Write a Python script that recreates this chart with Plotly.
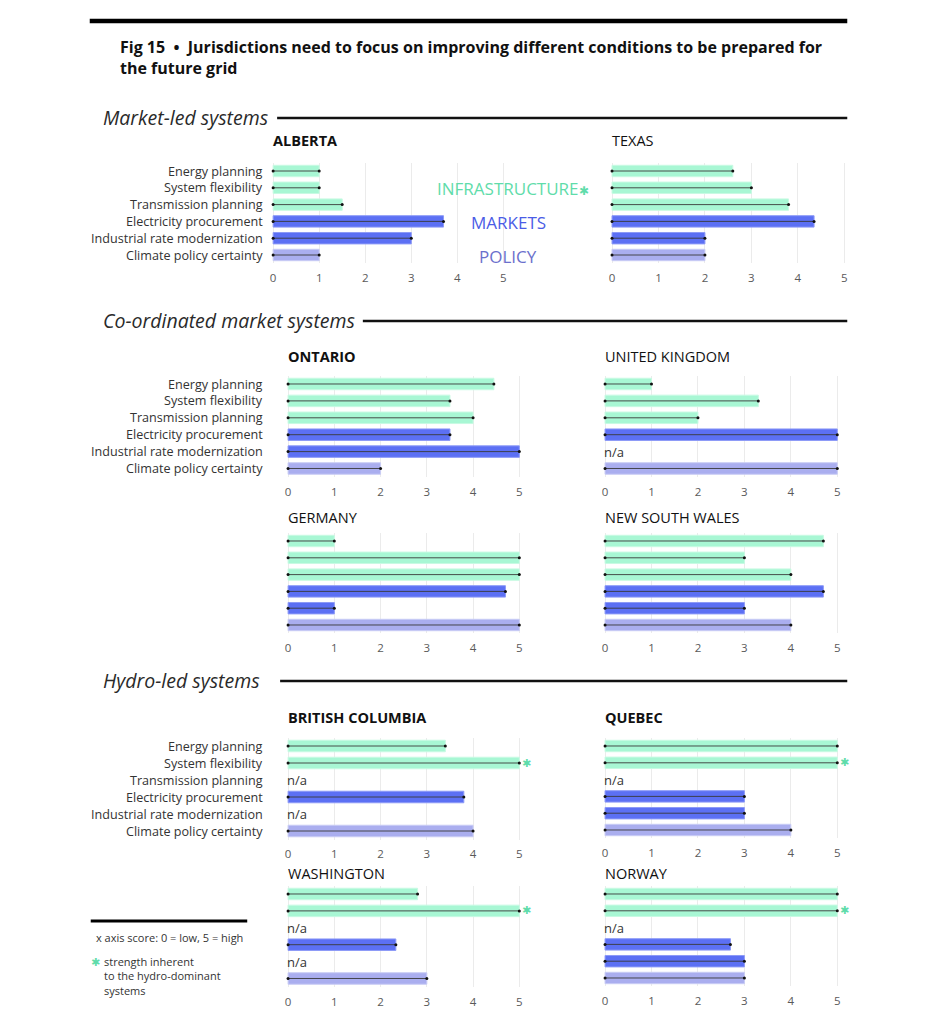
import plotly.graph_objects as go

# page body has an 8px margin; figure fills the rest of the 936x1024 window
OFF = 8
W, H = 936 - 2 * OFF, 1024 - 2 * OFF
FONT = "Open Sans"

# ---------------- data ----------------
categories = ["Energy planning", "System flexibility", "Transmission planning",
              "Electricity procurement", "Industrial rate modernization", "Climate policy certainty"]
groups = ["INFRASTRUCTURE", "INFRASTRUCTURE", "INFRASTRUCTURE", "MARKETS", "MARKETS", "POLICY"]
x_ticks = [0, 1, 2, 3, 4, 5]

alberta = [1.0, 1.0, 1.5, 3.7, 3.0, 1.0]
texas = [2.6, 3.0, 3.8, 4.35, 2.0, 2.0]
ontario = [4.45, 3.5, 4.0, 3.5, 5.0, 2.0]
united_kingdom = [1.0, 3.3, 2.0, 5.0, None, 5.0]
germany = [1.0, 5.0, 5.0, 4.7, 1.0, 5.0]
new_south_wales = [4.7, 3.0, 4.0, 4.7, 3.0, 4.0]
british_columbia = [3.4, 5.0, None, 3.8, None, 4.0]
quebec = [5.0, 5.0, None, 3.0, 3.0, 4.0]
washington = [2.8, 5.0, None, 2.33, None, 3.0]
norway = [5.0, 5.0, None, 2.7, 3.0, 3.0]

# strength inherent to hydro-dominant systems (category marked with asterisk)
hydro_strength = {"BRITISH COLUMBIA": ["System flexibility"], "QUEBEC": ["System flexibility"],
                  "WASHINGTON": ["System flexibility"], "NORWAY": ["System flexibility"]}

# ---------------- styles ----------------
fill = {"INFRASTRUCTURE": "#a8f7d4", "MARKETS": "#5c70f4", "POLICY": "#aaaeef"}
edge = {"INFRASTRUCTURE": "#c8fae3", "MARKETS": "#8d9af7", "POLICY": "#c9ccf5"}
label_col = {"INFRASTRUCTURE": "#5fdcaa", "MARKETS": "#4b5ce6", "POLICY": "#6b70cc"}
STAR = "#5fdcaa"

# panel layout in pixels: name, values, bold title, x of 0, x of 5, first row y, last row y, title y, show labels
panels = [
    ("ALBERTA", alberta, True, 272, 503, 171, 255, 141, True),
    ("TEXAS", texas, False, 612, 845, 171, 255, 141, False),
    ("ONTARIO", ontario, True, 287, 519, 384, 468.5, 356, True),
    ("UNITED KINGDOM", united_kingdom, False, 605, 838, 384, 468.5, 356, False),
    ("GERMANY", germany, False, 287, 519, 541, 625, 517, False),
    ("NEW SOUTH WALES", new_south_wales, False, 605, 838, 541, 625, 517, False),
    ("BRITISH COLUMBIA", british_columbia, True, 287, 519, 746, 831, 717, True),
    ("QUEBEC", quebec, True, 605, 838, 746, 830, 717, False),
    ("WASHINGTON", washington, False, 287, 519, 894, 978.5, 873, False),
    ("NORWAY", norway, False, 605, 838, 894, 978, 873, False),
]


def px(x):
    return (x - OFF) / W


def py(y):
    return 1 - (y - OFF) / H


fig = go.Figure()
annotations = []
shapes = []
RMIN, RMAX = -0.03, 5.06

for i, (name, vals, bold, x0, x5, r0, r1, ty, show_labels) in enumerate(panels, start=1):
    xa = "x" if i == 1 else f"x{i}"
    ya = "y" if i == 1 else f"y{i}"
    xkey = "xaxis" if i == 1 else f"xaxis{i}"
    ykey = "yaxis" if i == 1 else f"yaxis{i}"
    u = (x5 - x0) / 5.0
    step = (r1 - r0) / 5.0
    dom_x = [px(x0 + RMIN * u), px(x0 + RMAX * u)]
    dom_y = [py(r1 + step / 2), py(r0 - step / 2)]

    fig.add_trace(go.Bar(
        x=vals, y=categories, orientation="h", xaxis=xa, yaxis=ya,
        width=0.68,
        marker=dict(color=[fill[g] for g in groups], line=dict(color=[edge[g] for g in groups], width=1)),
        hoverinfo="skip", showlegend=False,
    ))
    lx, ly = [], []
    for c, v in zip(categories, vals):
        if v is None:
            continue
        lx += [0, v, None]
        ly += [c, c, None]
    fig.add_trace(go.Scatter(
        x=lx, y=ly, mode="lines+markers", xaxis=xa, yaxis=ya,
        line=dict(color="#3a3a3a", width=0.9), marker=dict(color="#111111", size=3),
        hoverinfo="skip", showlegend=False, cliponaxis=False,
    ))

    fig.update_layout({
        xkey: dict(domain=dom_x, range=[RMIN, RMAX], anchor=ya, tickvals=x_ticks,
                   showgrid=True, gridcolor="#ebebeb", gridwidth=1, zeroline=False,
                   showline=False, ticks="outside", ticklen=4, tickcolor="rgba(0,0,0,0)",
                   tickfont=dict(family=FONT, size=11.5, color="#5a5a5a"), fixedrange=True),
        ykey: dict(domain=dom_y, anchor=xa, type="category", categoryorder="array",
                   categoryarray=categories, range=[5.5, -0.5], showticklabels=False,
                   showgrid=False, zeroline=False, showline=False, fixedrange=True),
    })

    # panel title
    annotations.append(dict(
        x=px(x0), y=py(ty), xref="paper", yref="paper", xanchor="left", yanchor="middle", xshift=-2,
        text=f"<b>{name}</b>" if bold else name, showarrow=False,
        font=dict(family=FONT, size=14.5, color="#111111"),
    ))
    # row labels
    if show_labels:
        for c in categories:
            annotations.append(dict(
                x=px(264), y=c, xref="paper", yref=ya, xanchor="right", yanchor="middle",
                text=c, showarrow=False, font=dict(family=FONT, size=12.6, color="#333333"),
            ))
    # n/a labels
    for c, v in zip(categories, vals):
        if v is None:
            annotations.append(dict(
                x=0, y=c, xref=xa, yref=ya, xanchor="left", yanchor="middle", xshift=-3,
                text="n/a", showarrow=False, font=dict(family=FONT, size=13, color="#333333"),
            ))
    # hydro strength stars
    for c in hydro_strength.get(name, []):
        v = vals[categories.index(c)]
        annotations.append(dict(
            x=v, y=c, xref=xa, yref=ya, xanchor="left", yanchor="middle", xshift=1,
            text="✱", showarrow=False, font=dict(family="DejaVu Sans", size=11, color=STAR),
        ))

# group key labels (next to Alberta)
for text, g, cx, cy in [("INFRASTRUCTURE<span style='font-size:12px'>✱</span>", "INFRASTRUCTURE", 513, 188),
                        ("MARKETS", "MARKETS", 508, 222), ("POLICY", "POLICY", 508, 256)]:
    annotations.append(dict(
        x=px(cx), y=py(cy), xref="paper", yref="paper", xanchor="center", yanchor="middle",
        text=text, showarrow=False, font=dict(family=FONT, size=17, color=label_col[g]),
    ))

# title
annotations.append(dict(x=px(116), y=py(47), xref="paper", yref="paper", xanchor="left", yanchor="middle",
                        text="<b>Fig 15  •  Jurisdictions need to focus on improving different conditions to be prepared for</b>",
                        showarrow=False, font=dict(family=FONT, size=16, color="#111111")))
annotations.append(dict(x=px(116), y=py(68), xref="paper", yref="paper", xanchor="left", yanchor="middle",
                        text="<b>the future grid</b>", showarrow=False,
                        font=dict(family=FONT, size=16, color="#111111")))

# section headers
for text, ty, rx in [("Market-led systems", 117, 276), ("Co-ordinated market systems", 320, 362),
                     ("Hydro-led systems", 680, 279)]:
    annotations.append(dict(x=px(99), y=py(ty), xref="paper", yref="paper", xanchor="left", yanchor="middle",
                            text=f"<i>{text}</i>", showarrow=False,
                            font=dict(family=FONT, size=19.5, color="#2a2a2a")))
    shapes.append(dict(type="line", xref="paper", yref="paper", x0=px(rx), x1=px(848),
                       y0=py(ty + 1), y1=py(ty + 1), line=dict(color="#111111", width=2.5)))

# top rule
shapes.append(dict(type="line", xref="paper", yref="paper", x0=px(88), x1=px(848), y0=py(21), y1=py(21),
                   line=dict(color="#000000", width=4.5)))

# legend
shapes.append(dict(type="line", xref="paper", yref="paper", x0=px(89), x1=px(246), y0=py(921), y1=py(921),
                   line=dict(color="#000000", width=3)))
annotations.append(dict(x=px(92), y=py(937), xref="paper", yref="paper", xanchor="left", yanchor="middle",
                        text="x axis score: 0 = low, 5 = high", showarrow=False,
                        font=dict(family=FONT, size=11, color="#333333")))
annotations.append(dict(x=px(87), y=py(962), xref="paper", yref="paper", xanchor="left", yanchor="middle",
                        text="✱", showarrow=False, font=dict(family="DejaVu Sans", size=11, color=STAR)))
annotations.append(dict(x=px(100), y=py(952), xref="paper", yref="paper", xanchor="left", yanchor="top",
                        align="left", text="strength inherent<br>to the hydro-dominant<br>systems",
                        showarrow=False, font=dict(family=FONT, size=11, color="#333333")))

fig.update_layout(
    width=W, height=H, margin=dict(l=0, r=0, t=0, b=0),
    paper_bgcolor="white", plot_bgcolor="white",
    barmode="overlay", bargap=0.3,
    annotations=annotations, shapes=shapes,
    font=dict(family=FONT),
)

fig.write_html("out.html")
